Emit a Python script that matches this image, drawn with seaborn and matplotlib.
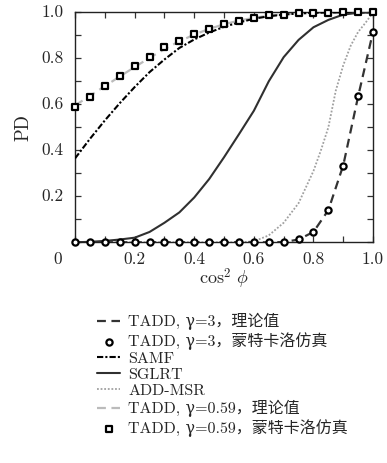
import matplotlib
matplotlib.use("Agg")
import matplotlib.pyplot as plt
import seaborn as sns

# x grid (cos^2 phi) used by the simulated points and most curves
X = [0.0, 0.05, 0.1, 0.15, 0.2, 0.25, 0.3, 0.35, 0.4, 0.45, 0.5,
     0.55, 0.6, 0.65, 0.7, 0.75, 0.8, 0.85, 0.9, 0.95, 1.0]

# TADD, gamma=3
TADD3_THEORY = [0, 0, 0, 0, 0, 0, 0, 0, 0, 0, 0,
                0, 0, 0, 0.001, 0.012, 0.045, 0.14, 0.335, 0.635, 0.916]
TADD3_MC = [0, 0, 0, 0, 0, 0, 0, 0, 0, 0, 0,
            0, 0, 0, 0, 0.014, 0.046, 0.14, 0.333, 0.634, 0.916]

# SAMF
SAMF = [0.365, 0.45, 0.53, 0.605, 0.675, 0.74, 0.795, 0.845, 0.882, 0.912, 0.937,
        0.956, 0.972, 0.983, 0.99, 0.995, 0.998, 0.999, 1.0, 1.0, 1.0]

# SGLRT
SGLRT = [0.0, 0.002, 0.006, 0.012, 0.02, 0.045, 0.085, 0.13, 0.195, 0.275, 0.37,
         0.47, 0.572, 0.7, 0.805, 0.88, 0.935, 0.967, 0.99, 0.998, 1.0]

# ADD-MSR (own grid, denser where it rises)
X_MSR = [0.0, 0.1, 0.2, 0.3, 0.4, 0.5, 0.55, 0.6, 0.65, 0.7, 0.75,
         0.8, 0.825, 0.85, 0.875, 0.9, 0.925, 0.95, 0.975, 1.0]
ADD_MSR = [0, 0, 0, 0, 0, 0, 0, 0.004, 0.03, 0.085, 0.17,
           0.31, 0.40, 0.5, 0.66, 0.77, 0.855, 0.915, 0.955, 1.0]

# TADD, gamma=0.59
TADD059_THEORY = [0.595, 0.637, 0.679, 0.721, 0.762, 0.802, 0.84, 0.874, 0.903, 0.928, 0.948,
                  0.964, 0.976, 0.985, 0.991, 0.995, 0.997, 0.999, 1.0, 1.0, 1.0]
TADD059_MC = [0.59, 0.633, 0.68, 0.723, 0.767, 0.807, 0.848, 0.877, 0.906, 0.926, 0.948,
              0.964, 0.975, 0.987, 0.99, 0.996, 0.998, 0.999, 1.0, 1.0, 1.0]

LABELS = ["TADD, γ=3，理论值", "TADD, γ=3，蒙特卡洛仿真", "SAMF", "SGLRT",
          "ADD-MSR", "TADD, γ=0.59，理论值", "TADD, γ=0.59，蒙特卡洛仿真"]
TICKS = [0.0, 0.1, 0.2, 0.3, 0.4, 0.5, 0.6, 0.7, 0.8, 0.9, 1.0]
XTICKS = [0.2, 0.4, 0.6, 0.8, 1.0]
XTICKLABELS = ["0.2", "0.4", "0.6", "0.8", "1.0"]
YTICKS = [0.2, 0.4, 0.6, 0.8, 1.0]
YTICKLABELS = ["0.2", "0.4", "0.6", "0.8", "1.0"]

sns.set_style("ticks")
plt.rcParams["font.family"] = ["cmr10", "DejaVu Serif", "Noto Sans CJK SC"]
plt.rcParams["mathtext.fontset"] = "cm"
plt.rcParams["axes.formatter.use_mathtext"] = True
plt.rcParams["axes.unicode_minus"] = False

fig = plt.figure(figsize=(3.87, 4.63), dpi=100)
ax = fig.add_axes([0.194, 0.4767, 0.770, 0.4967])

sns.lineplot(x=X, y=TADD3_THEORY, ax=ax, color="#333333", lw=1.6, zorder=3)
ax.lines[-1].set_dashes((4, 2.5))
l_t3 = ax.lines[-1]

sns.lineplot(x=X, y=SAMF, ax=ax, color="black", lw=1.5, zorder=3)
ax.lines[-1].set_dashes((3, 1, 1, 1))
l_samf = ax.lines[-1]

sns.lineplot(x=X, y=SGLRT, ax=ax, color="#303030", lw=1.5, zorder=3)
l_sglrt = ax.lines[-1]

sns.lineplot(x=X_MSR, y=ADD_MSR, ax=ax, color="#a0a0a0", lw=1.3, zorder=2)
ax.lines[-1].set_dashes((1, 1))
l_msr = ax.lines[-1]

sns.lineplot(x=X, y=TADD059_THEORY, ax=ax, color="#bbbbbb", lw=1.6, zorder=2)
ax.lines[-1].set_dashes((4, 2.5))
l_t059 = ax.lines[-1]

sns.scatterplot(x=X, y=TADD3_MC, ax=ax, marker="o", s=20,
                facecolor="white", edgecolor="black", linewidth=1.6,
                zorder=5, clip_on=False)
sc_t3 = ax.collections[-1]
sns.scatterplot(x=X, y=TADD059_MC, ax=ax, marker="s", s=18,
                facecolor="white", edgecolor="black", linewidth=1.6, zorder=5,
                clip_on=False)
sc_t059 = ax.collections[-1]

ax.set_xlim(0, 1)
ax.set_ylim(0, 1)
ax.set_xticks(TICKS)
ax.set_xticklabels([""] * len(TICKS))
ax.set_yticks(TICKS)
ax.set_yticklabels([""] * len(TICKS))
# tick labels sit where the original typesetting put them ("0" shared at the corner)
for t, lab in zip(XTICKS, XTICKLABELS):
    ax.text(t, -0.075, lab, ha="center", va="center", fontsize=12.5,
            transform=ax.get_xaxis_transform())
ax.text(-0.057, -0.075, "0", ha="center", va="center", fontsize=12.5,
        transform=ax.transAxes)
for t, lab in zip(YTICKS, YTICKLABELS):
    ax.text(-0.04, t, lab, ha="right", va="center", fontsize=12.5,
            transform=ax.get_yaxis_transform())
ax.tick_params(axis="both", direction="in", length=4.5, width=0.9,
               top=True, right=True, bottom=True, left=True, color="#333333")
for sp in ax.spines.values():
    sp.set_linewidth(1.0)
    sp.set_color("#222222")
    sp.set_visible(True)

ax.set_xlabel(r"$\cos^2\,\phi$", fontsize=13, labelpad=14)
ax.set_ylabel("PD", fontsize=13.5, labelpad=27)

handles = [l_t3, sc_t3, l_samf, l_sglrt, l_msr, l_t059, sc_t059]
fig.legend(handles, LABELS, loc="upper left", bbox_to_anchor=(0.235, 0.338),
           frameon=False, fontsize=11.5, handlelength=1.4, handletextpad=0.55,
           labelspacing=0.12, borderaxespad=0)

fig.savefig("out.png", dpi=100)
